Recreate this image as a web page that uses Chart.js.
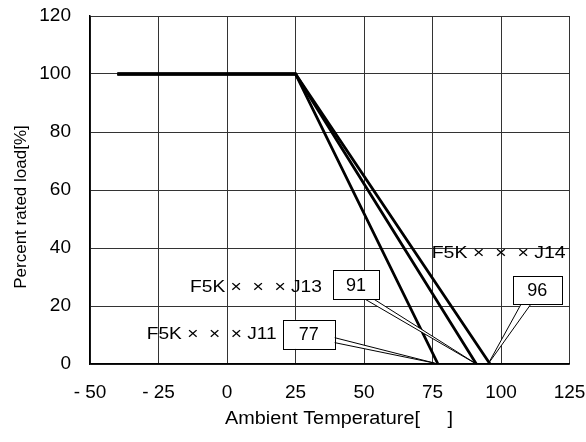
<!DOCTYPE html>
<html>
<head>
<meta charset="utf-8">
<script src="https://cdn.jsdelivr.net/npm/chart.js@4/dist/chart.umd.min.js"></script>
<style>
html,body{margin:0;padding:0;background:#fff;}
#wrap{width:586px;height:442px;}
</style>
</head>
<body>
<div id="wrap"><canvas id="c" width="586" height="442"></canvas></div>
<script>
// ---- data ----
const seriesNames = ["F5K×  ×  × J11", "F5K×  ×  × J13", "F5K×  ×  × J14"];
const tempPoints = {
  J11: [-40, 25, 77],
  J13: [-40, 25, 91],
  J14: [-40, 25, 96]
};
const loadPoints = [100, 100, 0];
const xTicks = [-50, -25, 0, 25, 50, 75, 100, 125];
const yTicks = [0, 20, 40, 60, 80, 100, 120];
const xTitle = "Ambient Temperature[     ]";
const yTitle = "Percent rated load[%]";
// label annotations (data units): text, x, y
const labelTexts = ["F5K ×  ×  × J14", "F5K ×  ×  × J13", "F5K ×  ×  × J11"];
const labelX = [74.7, -13.5, -29.3];
const labelY = [38.3, 26.6, 10.3];
// callout boxes: value text, box centre (data units), tip (data units)
const calloutTexts = ["77", "91", "96"];
const calloutX = [29.8, 47.1, 113.2];
const calloutY = [10.2, 27.4, 25.5];
const calloutTipX = [75.8, 91, 95.3];
const calloutTipY = [0.3, 0, 0];

const FONT = "'Liberation Sans', Arial, sans-serif";

function mk(key){
  return tempPoints[key].map((t,i)=>({x:t, y:loadPoints[i]}));
}

function fitText(ctx, text, x, y, w, align){
  const m = ctx.measureText(text).width;
  const sx = w / m;
  ctx.save();
  ctx.translate(x, y);
  ctx.scale(sx, 1);
  ctx.textAlign = align;
  ctx.fillText(text, 0, 0);
  ctx.restore();
}

const annot = {
  id:'annot',
  afterDatasetsDraw(chart){
    const ctx = chart.ctx, xs = chart.scales.x, ys = chart.scales.y;
    ctx.save();
    ctx.font = "17px " + FONT;
    ctx.fillStyle = "#000";
    ctx.textBaseline = "middle";
    const labelW = [134, 132, 130];
    for (let i=0;i<labelTexts.length;i++){
      fitText(ctx, labelTexts[i], xs.getPixelForValue(labelX[i]), ys.getPixelForValue(labelY[i]), labelW[i], 'left');
    }
    // callouts
    const bw = [52, 46, 49], bh = [29, 29, 28];
    for (let i=0;i<calloutTexts.length;i++){
      const cx = xs.getPixelForValue(calloutX[i]), cy = ys.getPixelForValue(calloutY[i]);
      const tx = xs.getPixelForValue(calloutTipX[i]), ty = ys.getPixelForValue(calloutTipY[i]);
      const l = cx - bw[i]/2, r = cx + bw[i]/2, t = cy - bh[i]/2, b = cy + bh[i]/2;
      let p1, p2;
      if (i === 0){ p1 = [r-1, cy+3]; p2 = [r-1, cy+8]; }
      else if (i === 1){ p1 = [cx+7, b-1]; p2 = [cx+16, b-1]; }
      else { p1 = [l+9, b-1]; p2 = [l+19, b-1]; }
      ctx.beginPath();
      ctx.moveTo(p1[0],p1[1]); ctx.lineTo(tx,ty); ctx.lineTo(p2[0],p2[1]); ctx.closePath();
      ctx.fillStyle = "#fff"; ctx.fill();
      ctx.beginPath();
      ctx.moveTo(p1[0],p1[1]); ctx.lineTo(tx,ty); ctx.lineTo(p2[0],p2[1]);
      ctx.strokeStyle = "#000"; ctx.lineWidth = 1; ctx.stroke();
      ctx.fillStyle = "#fff";
      ctx.fillRect(l, t, bw[i], bh[i]);
      ctx.strokeStyle = "#000";
      ctx.strokeRect(Math.round(l)+0.5, Math.round(t)+0.5, bw[i], bh[i]);
      ctx.beginPath();
      ctx.moveTo(p1[0],p1[1]); ctx.lineTo(p2[0],p2[1]);
      ctx.strokeStyle = "#fff"; ctx.lineWidth = 1.5; ctx.stroke();
      ctx.fillStyle = "#000";
      ctx.textAlign = "center";
      ctx.font = "18px " + FONT;
      ctx.fillText(calloutTexts[i], cx, cy+1);
      ctx.font = "17px " + FONT;
    }
    // axis titles
    ctx.fillStyle = "#000";
    ctx.font = "18px " + FONT;
    fitText(ctx, xTitle, 225, 419, 228, 'left');
    ctx.font = "17px " + FONT;
    ctx.save();
    ctx.translate(21, 207);
    ctx.rotate(-Math.PI/2);
    ctx.textAlign = 'center';
    ctx.fillText(yTitle, 0, 0);
    ctx.restore();
    ctx.restore();
  }
};

new Chart(document.getElementById('c'), {
  type: 'line',
  data: {
    datasets: [
      {label: seriesNames[0], data: mk('J11')},
      {label: seriesNames[1], data: mk('J13')},
      {label: seriesNames[2], data: mk('J14')}
    ].map(d => Object.assign(d, {borderColor:'#000', borderWidth:2.8, pointRadius:0, fill:false, tension:0}))
  },
  options: {
    responsive:false, animation:false,
    layout:{padding:{top:16, right:16.5, left:0, bottom:0}},
    plugins:{legend:{display:false}, tooltip:{enabled:false}},
    scales:{
      x:{type:'linear', min:-50, max:125,
        afterBuildTicks(s){ s.ticks = xTicks.map(v=>({value:v})); },
        afterFit(s){ s.height = 78; s.paddingLeft = 0; s.paddingRight = 0; },
        grid:{color:'#333', lineWidth:1, drawTicks:false},
        border:{color:'#000', width:1.5},
        ticks:{padding:17, color:'#000', font:{family:FONT, size:19},
          callback:v => v < 0 ? '- ' + Math.abs(v) : String(v)}
      },
      y:{type:'linear', min:0, max:120,
        afterBuildTicks(s){ s.ticks = yTicks.map(v=>({value:v})); },
        afterFit(s){ s.width = 90; s.paddingTop = 0; s.paddingBottom = 0; },
        grid:{color:'#333', lineWidth:1, drawTicks:false},
        border:{color:'#000', width:1.5},
        ticks:{padding:19, color:'#000', font:{family:FONT, size:19}}
      }
    }
  },
  plugins:[annot]
});
</script>
</body>
</html>
